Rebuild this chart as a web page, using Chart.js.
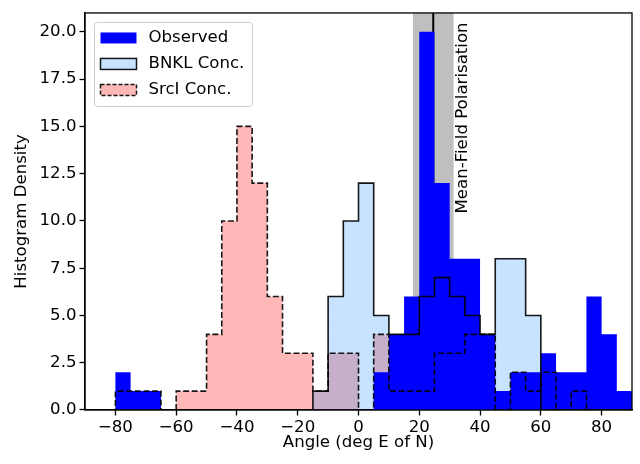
<!DOCTYPE html>
<html>
<head>
<meta charset="utf-8">
<title>Polarisation angle histogram</title>
<script src="https://cdn.jsdelivr.net/npm/chart.js@4.4.0/dist/chart.umd.min.js"></script>
<style>
  html, body { margin: 0; padding: 0; background: #ffffff; }
  #wrap { width: 640px; height: 464px; }
</style>
</head>
<body>
<div id="wrap"><canvas id="histChart" width="640" height="464"></canvas></div>
<script>
// Histogram of polarisation angles, 5 deg bins from -90 to 90

// Bin edges (deg E of N)
const binEdges = [-90, -85, -80, -75, -70, -65, -60, -55, -50, -45, -40, -35,
  -30, -25, -20, -15, -10, -5, 0, 5, 10, 15, 20, 25, 30, 35, 40, 45, 50, 55,
  60, 65, 70, 75, 80, 85, 90];

// Histogram densities, one value per bin
const observedDensity = [0, 0, 2, 1, 1, 0, 0, 0, 0, 0, 0, 0,
  0, 0, 0, 0, 0, 0, 0, 2, 4, 6, 20, 12,
  8, 8, 4, 1, 2, 2, 3, 2, 2, 6, 4, 1];
const bnklDensity = [0, 0, 0, 0, 0, 0, 0, 0, 0, 0, 0, 0,
  0, 0, 0, 1, 6, 10, 12, 5, 4, 4, 6, 7,
  6, 5, 4, 8, 8, 5, 0, 0, 0, 0, 0, 0];
const srciDensity = [0, 0, 1, 1, 1, 0, 1, 1, 4, 10, 15, 12,
  6, 3, 3, 1, 3, 3, 0, 4, 1, 1, 1, 3,
  3, 4, 4, 0, 2, 1, 2, 0, 1, 0, 0, 0];

// Mean-field polarisation angle and its uncertainty
const meanFieldAngle = 24.6;
const meanFieldError = 6.7;
const meanFieldLabel = 'Mean-Field Polarisation';

const seriesLabels = ['Observed', 'BNKL Conc.', 'SrcI Conc.'];
const xTickValues = [-80, -60, -40, -20, 0, 20, 40, 60, 80];
const yTickValues = [0, 2.5, 5, 7.5, 10, 12.5, 15, 17.5, 20];

const FONT_FAMILY = '"DejaVu Sans", sans-serif';
const FONT_SIZE = 16.6;
const OBSERVED_COLOR = '#0000ff';
const BNKL_FILL = 'rgba(30, 144, 255, 0.25)';
const SRCI_FILL = 'rgba(255, 0, 0, 0.28)';
const EDGE_COLOR = 'rgba(0, 0, 0, 0.9)';
const DASH = [6, 2.6];

// Turn bin edges + values into points for a stepped line
function histogramPoints(edges, values) {
  const points = [{ x: edges[0], y: 0 }];
  values.forEach((v, i) => points.push({ x: edges[i], y: v }));
  const last = edges[edges.length - 1];
  points.push({ x: last, y: values[values.length - 1] });
  points.push({ x: last, y: 0 });
  return points;
}

function stepDataset(label, values, extra) {
  return Object.assign({
    label: label,
    data: histogramPoints(binEdges, values),
    stepped: true,
    pointRadius: 0,
    tension: 0,
    borderWidth: 0
  }, extra);
}

function formatAngle(value) {
  return value < 0 ? '\u2212' + Math.abs(value) : String(value);
}

// Grey band + line for the mean-field angle, text label on top
const meanFieldPlugin = {
  id: 'meanField',
  beforeDatasetsDraw(chart) {
    const { ctx, chartArea, scales } = chart;
    const x = scales.x;
    const left = x.getPixelForValue(meanFieldAngle - meanFieldError);
    const right = x.getPixelForValue(meanFieldAngle + meanFieldError);
    const mid = x.getPixelForValue(meanFieldAngle);
    ctx.save();
    ctx.fillStyle = 'rgba(128, 128, 128, 0.5)';
    ctx.fillRect(left, chartArea.top, right - left, chartArea.bottom - chartArea.top);
    ctx.strokeStyle = '#000000';
    ctx.lineWidth = 2;
    ctx.beginPath();
    ctx.moveTo(mid, chartArea.top);
    ctx.lineTo(mid, chartArea.bottom);
    ctx.stroke();
    ctx.restore();
  },
  afterDatasetsDraw(chart) {
    const { ctx, scales } = chart;
    const tx = scales.x.getPixelForValue(34.2);
    const ty = scales.y.getPixelForValue(20.5);
    ctx.save();
    ctx.translate(tx, ty);
    ctx.rotate(-Math.PI / 2);
    ctx.font = FONT_SIZE + 'px ' + FONT_FAMILY;
    ctx.fillStyle = '#000000';
    ctx.textAlign = 'right';
    ctx.textBaseline = 'middle';
    ctx.fillText(meanFieldLabel, 0, 0);
    ctx.restore();
  }
};

// Axes frame (all four spines) and the boxed legend
const frameLegendPlugin = {
  id: 'frameLegend',
  afterDraw(chart) {
    const { ctx, chartArea } = chart;
    ctx.save();
    ctx.strokeStyle = '#000000';
    ctx.lineWidth = 1.3;
    ctx.strokeRect(chartArea.left, chartArea.top,
      chartArea.right - chartArea.left, chartArea.bottom - chartArea.top);

    const boxX = chartArea.left + 9.5;
    const boxY = chartArea.top + 9.5;
    ctx.beginPath();
    ctx.roundRect(boxX, boxY, 158, 84, 3);
    ctx.fillStyle = 'rgba(255, 255, 255, 0.8)';
    ctx.fill();
    ctx.strokeStyle = '#cccccc';
    ctx.lineWidth = 1;
    ctx.stroke();

    const styles = [
      { fill: OBSERVED_COLOR, edge: null, dash: [] },
      { fill: BNKL_FILL, edge: EDGE_COLOR, dash: [] },
      { fill: SRCI_FILL, edge: EDGE_COLOR, dash: [4, 2] }
    ];
    ctx.font = FONT_SIZE + 'px ' + FONT_FAMILY;
    ctx.textBaseline = 'middle';
    seriesLabels.forEach((label, i) => {
      const cy = boxY + 15.5 + i * 26;
      const s = styles[i];
      ctx.fillStyle = s.fill;
      ctx.fillRect(boxX + 6, cy - 5.5, 36, 11);
      if (s.edge) {
        ctx.setLineDash(s.dash);
        ctx.strokeStyle = s.edge;
        ctx.lineWidth = 1.5;
        ctx.strokeRect(boxX + 6, cy - 5.5, 36, 11);
        ctx.setLineDash([]);
      }
      ctx.fillStyle = '#000000';
      ctx.fillText(label, boxX + 54, cy);
    });
    ctx.restore();
  }
};

function renderHistogramChart(canvasId) {
  const ctx = document.getElementById(canvasId);
  const tickFont = { family: FONT_FAMILY, size: FONT_SIZE };

  const chartConfig = {
    type: 'line',
    data: {
      datasets: [
        // outlines on top
        stepDataset('BNKL outline', bnklDensity, {
          fill: false, borderWidth: 1.6, borderColor: EDGE_COLOR, order: 0
        }),
        stepDataset('SrcI outline', srciDensity, {
          fill: false, borderWidth: 1.6, borderColor: EDGE_COLOR, borderDash: DASH, order: 1
        }),
        stepDataset(seriesLabels[0], observedDensity, {
          fill: 'origin', backgroundColor: OBSERVED_COLOR, borderColor: OBSERVED_COLOR, order: 2
        }),
        stepDataset(seriesLabels[1], bnklDensity, {
          fill: 'origin', backgroundColor: BNKL_FILL, borderColor: 'rgba(0,0,0,0)', order: 3
        }),
        stepDataset(seriesLabels[2], srciDensity, {
          fill: 'origin', backgroundColor: SRCI_FILL, borderColor: 'rgba(0,0,0,0)', order: 4
        })
      ]
    },
    options: {
      responsive: false,
      animation: false,
      devicePixelRatio: 1,
      layout: { padding: { top: 8, right: 8, left: 0, bottom: 0 } },
      plugins: {
        legend: { display: false },
        tooltip: { enabled: false }
      },
      scales: {
        x: {
          type: 'linear',
          min: -90,
          max: 90,
          afterBuildTicks: scale => { scale.ticks = xTickValues.map(v => ({ value: v })); },
          afterFit: scale => { scale.height = 54; },
          ticks: { callback: v => formatAngle(v), color: '#000000', font: tickFont, padding: 2, maxRotation: 0 },
          grid: { drawOnChartArea: false, drawTicks: true, tickLength: 5.5, tickColor: '#000000', tickWidth: 1.3 },
          border: { display: true, color: '#000000', width: 1.3 },
          title: { display: true, text: 'Angle (deg E of N)', color: '#000000', font: tickFont, padding: { top: 0, bottom: 11 } }
        },
        y: {
          type: 'linear',
          min: 0,
          max: 21,
          afterBuildTicks: scale => { scale.ticks = yTickValues.map(v => ({ value: v })); },
          afterFit: scale => { scale.width = 85; },
          ticks: { callback: v => v.toFixed(1), color: '#000000', font: tickFont, padding: 3 },
          grid: { drawOnChartArea: false, drawTicks: true, tickLength: 5.5, tickColor: '#000000', tickWidth: 1.3 },
          border: { display: true, color: '#000000', width: 1.3 },
          title: { display: true, text: 'Histogram Density', color: '#000000', font: tickFont, padding: { top: 12, bottom: 0 } }
        }
      }
    },
    plugins: [meanFieldPlugin, frameLegendPlugin]
  };

  return new Chart(ctx, chartConfig);
}

renderHistogramChart('histChart');
</script>
</body>
</html>
